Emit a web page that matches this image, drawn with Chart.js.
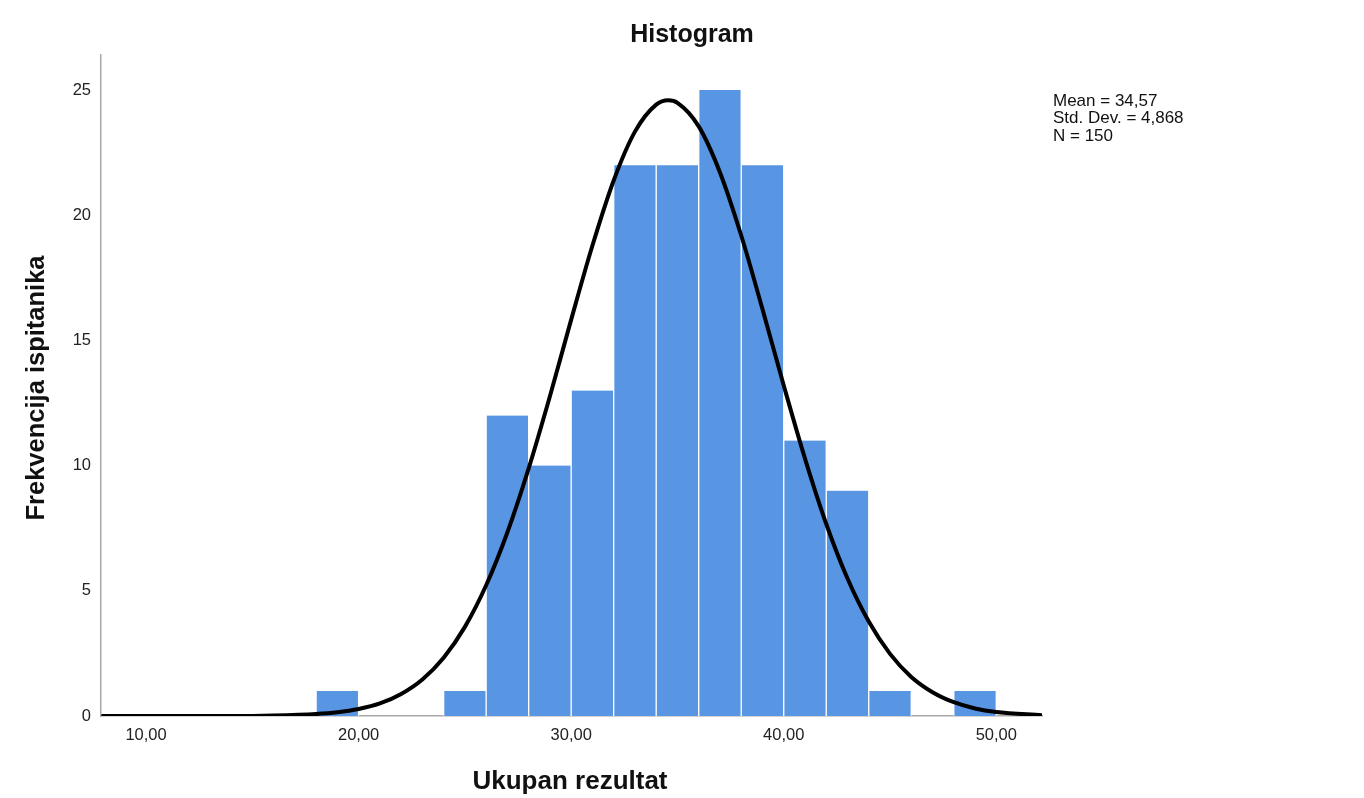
<!DOCTYPE html>
<html>
<head>
<meta charset="utf-8">
<script src="https://cdn.jsdelivr.net/npm/chart.js@4.4.1/dist/chart.umd.min.js"></script>
<style>
html,body{margin:0;padding:0;background:#fff;}
#wrap{width:1364px;height:798px;position:relative;}
</style>
</head>
<body>
<div id="wrap"><canvas id="c" width="1364" height="798"></canvas></div>
<script>
// ---- data ----
const binStart = [18, 24, 26, 28, 30, 32, 34, 36, 38, 40, 42, 44, 48];
const binCounts = [1, 1, 12, 10, 13, 22, 22, 25, 22, 11, 9, 1, 1];
const binWidth = 2;
const curveX = [7.9, 10, 12, 14, 16, 18, 19, 20, 21, 22, 23, 24, 25, 26, 27, 28, 29, 30, 31, 32, 33, 34, 34.57, 35, 36, 37, 38, 39, 40, 41, 42, 43, 44, 45, 46, 47, 48, 49, 50, 52.15];
const curveY = [0, 0, 0, 0, 0.02, 0.08, 0.15, 0.28, 0.5, 0.88, 1.46, 2.33, 3.56, 5.22, 7.34, 9.89, 12.77, 15.83, 18.79, 21.39, 23.34, 24.42, 24.59, 24.49, 23.55, 21.71, 19.19, 16.25, 13.2, 10.28, 7.67, 5.49, 3.77, 2.48, 1.56, 0.95, 0.55, 0.3, 0.16, 0.03];
const xTickValues = [10, 20, 30, 40, 50];
const yTickValues = [0, 5, 10, 15, 20, 25];
const statsLines = ['Mean = 34,57', 'Std. Dev. = 4,868', 'N = 150'];
const titleText = 'Histogram';
const xTitle = 'Ukupan rezultat';
const yTitle = 'Frekvencija ispitanika';

const barData = binStart.map((s, i) => ({x: s + binWidth / 2, y: binCounts[i]}));
const lineData = curveX.map((x, i) => ({x: x, y: curveY[i]}));

const FONT = '"Liberation Sans", Arial, sans-serif';

const textPlugin = {
  id: 'texts',
  afterDraw(chart) {
    const ctx = chart.ctx;
    const ca = chart.chartArea;
    ctx.save();
    ctx.fillStyle = '#111';
    ctx.textAlign = 'center';
    ctx.textBaseline = 'middle';
    ctx.font = 'bold 25px ' + FONT;
    ctx.fillText(titleText, 692, 35);
    ctx.font = 'bold 26px ' + FONT;
    ctx.fillText(xTitle, 570, 782);
    ctx.save();
    ctx.font = 'bold 25.5px ' + FONT;
    ctx.translate(37, 388);
    ctx.rotate(-Math.PI / 2);
    ctx.fillText(yTitle, 0, 0);
    ctx.restore();
    ctx.textAlign = 'left';
    ctx.font = '17px ' + FONT;
    statsLines.forEach((t, i) => ctx.fillText(t, 1053, 101 + i * 17.5));
    ctx.restore();
  }
};

new Chart(document.getElementById('c'), {
  data: {
    datasets: [
      {
        type: 'line',
        data: lineData,
        borderColor: '#000',
        borderWidth: 4,
        pointRadius: 0,
        cubicInterpolationMode: 'monotone',
        fill: false,
        order: 0
      },
      {
        type: 'bar',
        data: barData,
        backgroundColor: '#5895e3',
        borderColor: '#ffffff',
        borderWidth: {left: 1, right: 1, top: 0, bottom: 0},
        borderSkipped: 'bottom',
        barPercentage: 1.0,
        categoryPercentage: 1.0,
        grouped: false,
        order: 1
      }
    ]
  },
  options: {
    responsive: false,
    animation: false,
    devicePixelRatio: 1,
    layout: {padding: {left: 0, top: 55, right: 322, bottom: 42}},
    plugins: {legend: {display: false}, tooltip: {enabled: false}, title: {display: false}},
    scales: {
      x: {
        type: 'linear',
        offset: false,
        min: 7.88,
        max: 52.15,
        grid: {display: false, drawTicks: false, offset: false},
        border: {display: true, color: '#a8a8a8', width: 1.5},
        afterBuildTicks: (s) => { s.ticks = xTickValues.map(v => ({value: v})); },
        afterFit: (s) => { s.height = 40; },
        ticks: {
          padding: 10,
          color: '#222',
          font: {family: FONT, size: 16.5},
          maxRotation: 0,
          callback: (v) => v.toFixed(2).replace('.', ',')
        }
      },
      y: {
        type: 'linear',
        min: 0,
        max: 26.4,
        grid: {display: false, drawTicks: false},
        border: {display: true, color: '#a8a8a8', width: 1.5},
        afterBuildTicks: (s) => { s.ticks = yTickValues.map(v => ({value: v})); },
        afterFit: (s) => { s.width = 101; },
        ticks: {
          padding: 10,
          color: '#222',
          font: {family: FONT, size: 16.5}
        }
      }
    }
  },
  plugins: [textPlugin]
});
</script>
</body>
</html>
